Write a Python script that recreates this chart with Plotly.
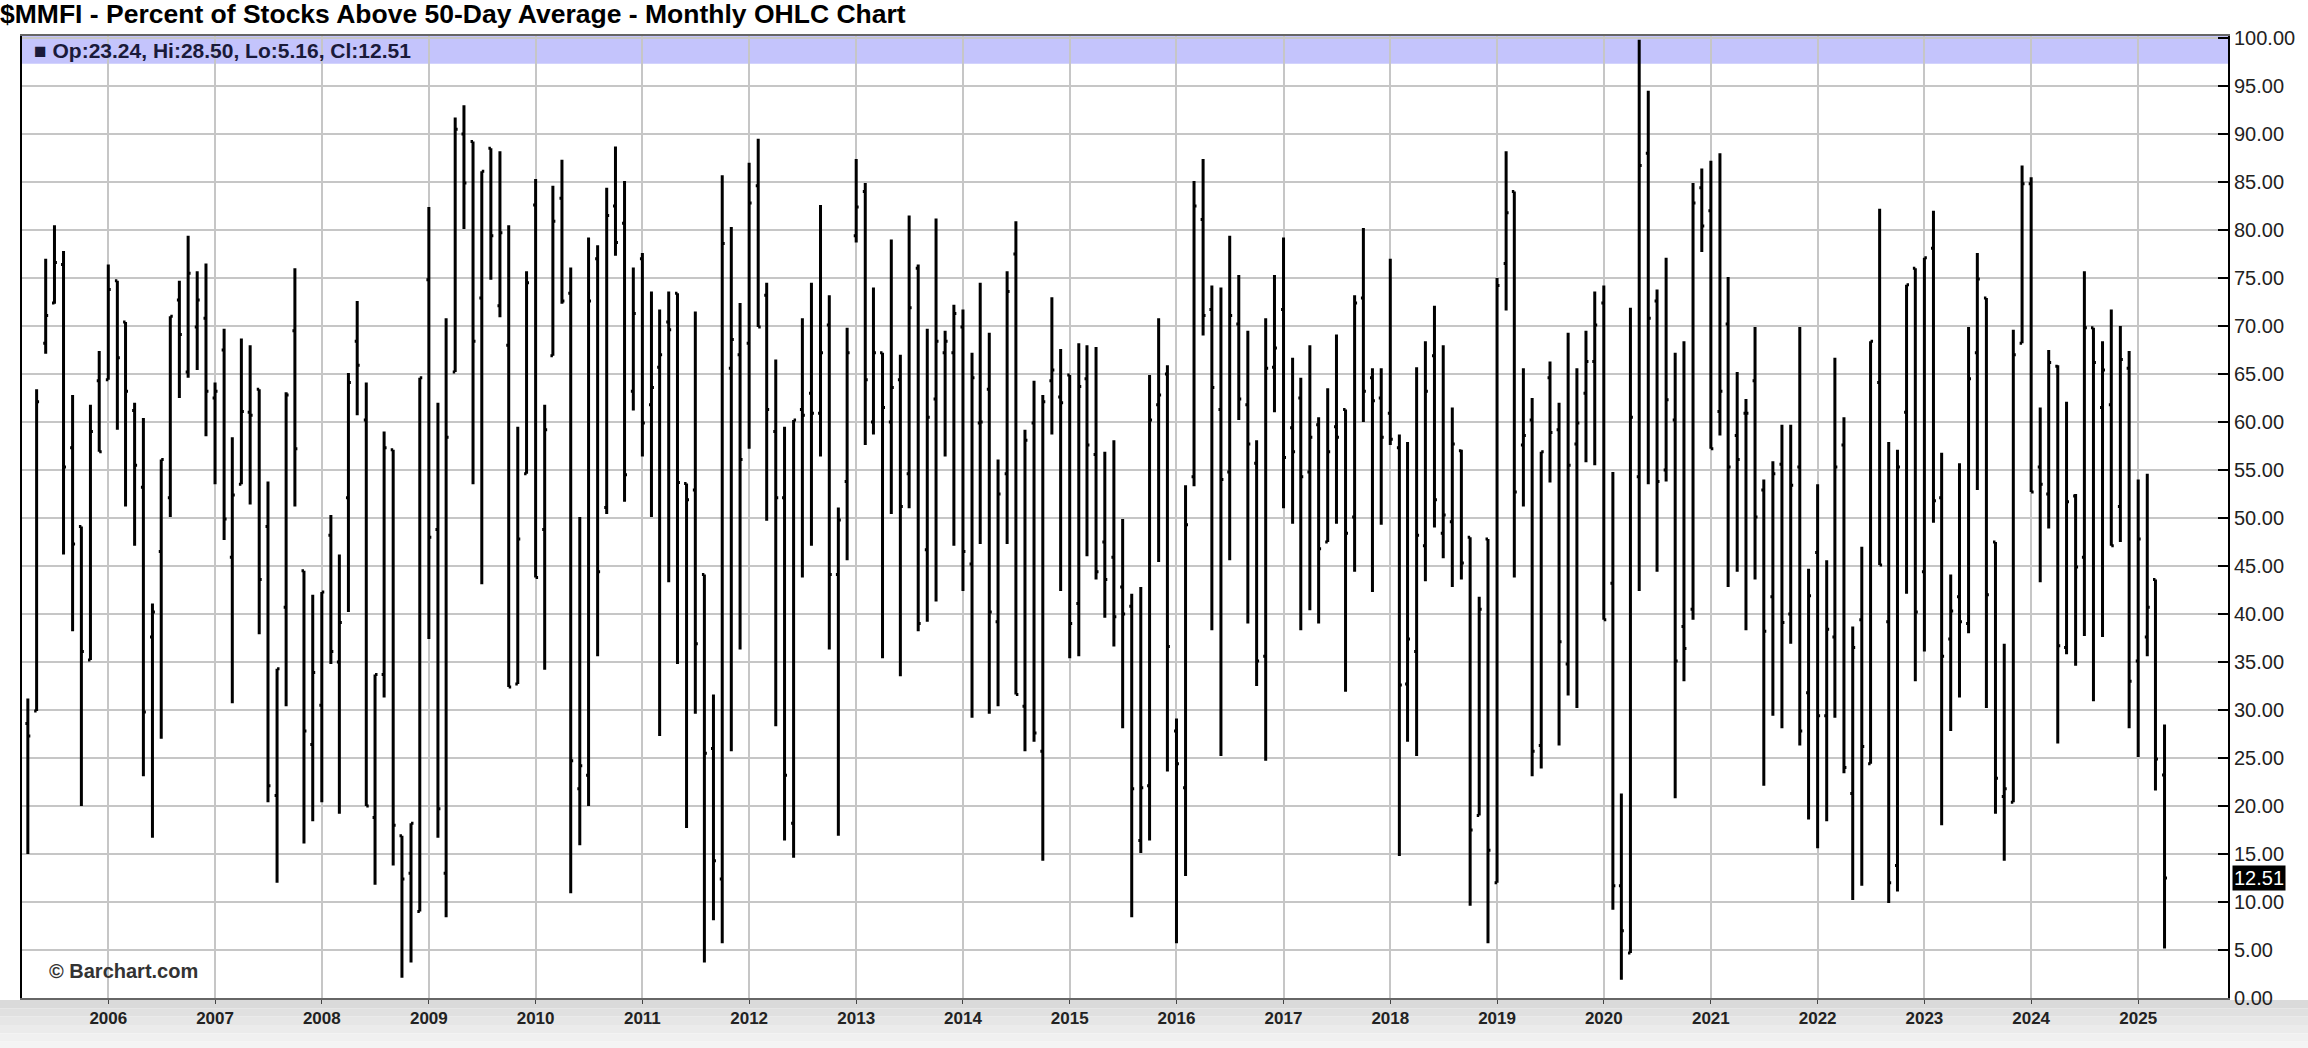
import pandas as pd
import plotly.graph_objects as go

# Monthly OHLC of $MMFI, Apr 2005 .. Apr 2025
first_month = "2005-04-01"
opens = [28.6, 29.9, 68.2, 72.4, 76.4, 57.3, 49.1, 35.2, 64.3,
         64.4, 74.7, 70.4, 61.2, 53.2, 37.6, 46.5, 52.1, 72.7, 65.2, 69.9, 70.8,
         62.5, 67.5, 45.9, 53.5, 61.0, 63.4, 49.1, 21.1, 40.7, 69.5, 44.5, 26.4,
         30.5, 48.2, 35.0, 52.1, 68.4, 60.2, 18.8, 33.7, 57.1, 16.9, 13.0, 9.0,
         74.8, 48.8, 13.0, 65.2, 90.0, 89.2, 72.9, 88.5, 72.1, 68.0, 32.7, 54.6,
         82.6, 48.8, 66.9, 83.3, 73.4, 21.8, 23.2, 77.0, 51.1, 82.5, 80.7, 63.2,
         77.0, 61.8, 65.7, 70.4, 73.4, 53.6, 52.9, 44.1, 26.0, 12.4, 65.6, 67.0,
         68.2, 84.6, 73.2, 59.0, 52.1, 18.2, 61.3, 63.0, 60.9, 70.1, 44.1, 53.8,
         79.4, 84.0, 60.0, 67.2, 60.0, 64.4, 54.6, 76.0, 46.7, 62.4, 67.2, 67.2,
         69.9, 45.2, 59.9, 63.4, 39.2, 54.6, 77.5, 30.4, 59.9, 25.7, 64.3, 62.6,
         64.9, 41.1, 64.5, 56.6, 47.5, 45.9, 42.8, 40.8, 16.4, 22.1, 61.8, 65.0,
         27.8, 21.9, 54.3, 81.1, 71.7, 61.3, 54.8, 70.2, 61.8, 55.7, 35.6, 65.7,
         71.7, 59.4, 62.5, 54.8, 59.7, 47.5, 59.5, 61.3, 50.1, 72.9, 64.6, 62.5,
         60.9, 57.3, 32.7, 36.1, 47.1, 66.9, 48.4, 49.6, 57.0, 48.0, 19.0, 47.8,
         12.0, 76.5, 84.0, 57.6, 60.2, 26.3, 64.6, 59.2, 34.8, 57.7, 63.0, 66.3,
         72.4, 43.2, 11.7, 4.7, 54.3, 88.0, 72.6, 55.0, 60.2, 38.7, 40.5, 84.4,
         82.0, 61.1, 70.2, 58.6, 60.9, 64.3, 52.9, 41.8, 55.6, 40.0, 55.3, 31.8,
         46.4, 29.4, 37.6, 57.6, 21.3, 39.4, 24.4, 64.1, 39.2, 13.8, 61.0, 76.0,
         44.4, 78.1, 52.1, 37.4, 41.8, 39.0, 67.2, 72.9, 47.5, 21.0, 20.4, 68.2,
         84.8, 55.3, 52.5, 65.8, 36.5, 52.3, 45.9, 69.8, 61.5, 61.8, 51.2, 65.6,
         35.1, 37.6, 43.6, 23.24]
highs = [31.2, 63.4, 77.0, 80.5, 77.8, 62.8, 49.1, 61.8, 67.4,
         76.4, 74.7, 70.4, 62.0, 60.4, 41.1, 56.1, 71.0, 74.7, 79.4, 75.7, 76.5,
         64.1, 69.7, 58.4, 68.7, 68.0, 63.4, 53.8, 34.3, 63.1, 76.0, 44.5, 42.0,
         42.3, 50.3, 46.2, 65.1, 72.6, 64.1, 33.7, 59.0, 57.1, 16.9, 18.2, 64.6,
         82.4, 62.0, 70.8, 91.7, 93.0, 89.2, 86.1, 88.5, 88.2, 80.5, 59.5, 75.7,
         85.3, 61.8, 84.6, 87.3, 76.1, 50.1, 79.2, 78.4, 84.4, 88.7, 85.1, 76.1,
         77.6, 73.6, 71.7, 73.6, 73.4, 53.6, 71.5, 44.1, 31.6, 85.7, 80.3, 72.4,
         87.0, 89.5, 74.5, 66.5, 59.5, 60.2, 70.8, 74.5, 82.6, 73.2, 51.1, 69.8,
         87.4, 84.9, 74.0, 67.2, 79.0, 67.0, 81.5, 76.4, 69.7, 81.2, 69.5, 72.2,
         71.7, 67.2, 74.5, 69.3, 56.1, 75.7, 80.9, 59.2, 64.3, 62.8, 73.0, 67.6,
         64.9, 68.2, 68.0, 67.8, 56.9, 58.1, 49.9, 42.1, 42.8, 64.9, 70.8, 65.9,
         29.1, 53.4, 85.1, 87.4, 74.2, 74.0, 79.4, 75.3, 69.5, 58.1, 70.8, 75.3,
         79.2, 66.7, 64.6, 68.0, 60.5, 63.5, 69.1, 61.3, 73.2, 80.2, 65.6, 65.6,
         77.0, 58.7, 57.9, 65.7, 68.4, 72.1, 68.0, 61.5, 57.1, 48.0, 41.8, 47.8,
         75.0, 88.2, 84.0, 65.6, 62.5, 56.9, 66.3, 62.0, 69.3, 65.6, 69.5, 73.6,
         74.2, 54.8, 21.3, 71.9, 99.8, 94.5, 73.8, 77.1, 67.2, 68.4, 84.9, 86.4,
         87.2, 88.0, 75.1, 65.2, 62.4, 69.9, 54.0, 55.9, 59.7, 59.7, 69.9, 44.7,
         53.5, 45.6, 66.7, 60.5, 38.7, 47.0, 68.4, 82.2, 57.9, 57.1, 74.3, 76.0,
         77.1, 82.0, 56.8, 44.1, 55.7, 69.9, 77.6, 72.9, 47.5, 36.9, 69.6, 86.7,
         85.5, 61.5, 67.5, 65.9, 62.1, 52.5, 75.7, 69.8, 68.4, 71.7, 70.0, 67.4,
         54.0, 54.6, 43.6, 28.50]
lows = [15.0, 29.9, 67.1, 72.3, 46.2, 38.2, 20.0, 35.2, 56.9,
        64.4, 59.2, 51.2, 47.1, 23.1, 16.7, 27.0, 50.1, 62.5, 64.6, 65.4, 58.5,
        53.5, 47.7, 30.7, 53.5, 51.4, 37.9, 20.4, 12.0, 30.4, 51.2, 16.1, 18.4,
        20.4, 34.8, 19.2, 40.2, 60.7, 20.0, 11.8, 31.3, 13.8, 2.1, 3.7, 9.0,
        37.4, 16.7, 8.4, 65.2, 80.1, 53.5, 43.1, 74.8, 70.9, 32.4, 32.7, 54.6,
        43.8, 34.2, 66.9, 72.3, 10.9, 15.9, 20.0, 35.6, 50.4, 77.3, 51.7, 61.2,
        56.4, 50.1, 27.3, 43.3, 34.8, 17.7, 29.6, 3.7, 8.1, 5.7, 25.7, 36.3,
        57.2, 69.9, 49.7, 28.3, 16.4, 14.6, 43.8, 47.1, 56.4, 36.3, 16.9, 45.6,
        78.7, 57.6, 58.7, 35.4, 50.4, 33.5, 51.0, 38.2, 39.2, 41.3, 56.4, 47.1,
        42.4, 29.2, 47.3, 29.6, 30.4, 47.3, 31.6, 25.7, 26.7, 14.3, 58.7, 42.4,
        35.4, 35.6, 46.0, 43.6, 39.6, 36.6, 28.1, 8.4, 15.1, 16.4, 45.4, 23.6,
        5.7, 12.7, 53.3, 69.0, 38.3, 25.2, 45.6, 60.2, 39.0, 32.5, 24.7, 61.0,
        51.0, 49.4, 38.3, 40.4, 39.0, 47.5, 49.4, 31.9, 44.4, 60.0, 42.3, 49.3,
        57.6, 14.8, 26.7, 25.2, 43.4, 49.0, 45.8, 42.8, 43.6, 9.6, 19.0, 5.7,
        12.0, 71.6, 43.8, 51.2, 23.1, 23.9, 53.7, 26.3, 31.5, 30.2, 55.8, 55.5,
        39.4, 9.2, 1.9, 4.7, 42.4, 53.5, 44.4, 53.8, 20.8, 33.0, 39.4, 77.7,
        57.2, 58.6, 42.8, 44.4, 38.3, 43.6, 22.1, 29.4, 28.1, 36.9, 26.3, 18.6,
        15.6, 18.4, 29.2, 23.4, 10.2, 11.7, 24.4, 45.1, 9.9, 11.1, 42.1, 33.0,
        36.1, 49.5, 18.0, 27.8, 31.3, 38.0, 52.9, 30.2, 19.2, 14.3, 20.4, 68.2,
        52.7, 43.3, 48.9, 26.5, 35.8, 34.6, 37.7, 30.9, 37.6, 47.1, 47.5, 28.1,
        25.1, 35.6, 21.6, 5.16]
closes = [27.3, 62.1, 71.1, 76.6, 55.3, 47.3, 36.1, 59.0, 56.9,
          73.8, 66.7, 63.2, 55.5, 29.8, 40.2, 56.1, 71.0, 69.1, 75.5, 72.7, 63.2,
          63.2, 49.9, 52.4, 61.1, 60.7, 43.6, 22.1, 34.3, 62.8, 57.2, 27.8, 33.9,
          42.3, 36.1, 39.1, 64.1, 65.9, 20.0, 33.7, 57.3, 18.0, 12.4, 18.2, 64.6,
          48.0, 19.7, 58.4, 90.5, 84.9, 68.4, 86.1, 79.4, 79.7, 32.4, 47.8, 74.5,
          43.8, 59.2, 80.9, 72.6, 24.7, 24.2, 72.6, 44.4, 81.5, 78.7, 54.5, 71.3,
          59.9, 63.6, 67.0, 69.6, 53.7, 51.9, 36.9, 25.5, 14.3, 78.6, 68.6, 56.1,
          82.8, 69.9, 61.3, 52.1, 23.2, 60.2, 60.7, 60.9, 67.2, 44.1, 49.8, 67.2,
          82.4, 64.4, 67.2, 61.5, 63.6, 51.2, 71.9, 39.0, 60.5, 68.4, 68.4, 71.3,
          46.5, 64.6, 60.0, 40.2, 52.5, 73.6, 31.6, 58.1, 27.6, 62.1, 65.4, 62.0,
          39.0, 63.7, 57.6, 44.4, 43.6, 39.7, 40.0, 21.8, 21.9, 60.2, 62.8, 36.6,
          24.4, 49.3, 82.5, 71.1, 63.6, 54.0, 71.1, 62.4, 57.7, 35.1, 65.6, 67.7,
          56.3, 56.9, 54.3, 58.4, 46.8, 56.9, 58.4, 48.4, 72.4, 63.2, 62.2, 58.4,
          58.2, 32.6, 37.4, 48.2, 63.2, 51.9, 50.3, 57.7, 45.3, 17.5, 40.5, 15.4,
          74.2, 81.8, 52.7, 58.6, 25.7, 56.9, 58.9, 37.1, 55.5, 59.9, 66.3, 70.1,
          39.4, 11.7, 7.0, 60.5, 86.7, 70.8, 53.8, 62.3, 35.1, 36.4, 82.8, 80.4,
          57.2, 63.2, 55.3, 56.1, 60.9, 50.1, 38.2, 54.6, 39.1, 53.4, 27.8, 41.9,
          29.4, 38.4, 55.3, 24.0, 36.5, 26.2, 68.4, 45.1, 12.0, 55.3, 74.3, 40.2,
          77.1, 51.8, 35.6, 40.3, 39.2, 64.5, 74.9, 42.0, 22.9, 21.8, 67.0, 84.8,
          52.7, 53.5, 66.2, 36.7, 51.7, 44.9, 69.8, 66.2, 65.4, 47.1, 66.5, 33.0,
          47.8, 40.7, 24.9, 12.51]
year_ticks = list(range(2006, 2026))

months = pd.date_range(first_month, periods=len(opens), freq="MS")

FONT = "Liberation Sans, Arial, sans-serif"
GRID = "#c6c6c6"

fig = go.Figure(go.Ohlc(
    x=months, open=opens, high=highs, low=lows, close=closes,
    increasing=dict(line=dict(color="black", width=3)),
    decreasing=dict(line=dict(color="black", width=3)),
    tickwidth=0.3, hoverinfo="skip", showlegend=False,
))

shapes = [
    # legend band at top of plot
    dict(type="rect", xref="paper", yref="y", x0=0, x1=1, y0=97.3, y1=100.2,
         fillcolor="#c4c4fc", line=dict(width=0), layer="below"),
]
# grey gradient strip under the plot
greys = ["#dadada", "#e0e0e0", "#e6e6e6", "#ebebeb", "#f0f0f0", "#f4f4f4"]
n = len(greys)
for i, g in enumerate(greys):
    y0 = -0.002 - i * 0.052 / n
    y1 = -0.002 - (i + 1) * 0.052 / n
    shapes.append(dict(type="rect", xref="paper", yref="paper",
                       x0=-0.02, x1=1.05, y0=y1, y1=y0,
                       fillcolor=g, line=dict(width=0), layer="below"))

fig.update_layout(
    width=2308, height=1048,
    margin=dict(l=22, r=80, t=36, b=50),
    paper_bgcolor="white", plot_bgcolor="white",
    font=dict(family=FONT, color="#222"),
    title=dict(text="<b>$MMFI - Percent of Stocks Above 50-Day Average - Monthly OHLC Chart</b>",
               x=0.0, xref="container", xanchor="left", y=1 - 14 / 1048, yanchor="middle",
               font=dict(family=FONT, size=26.5, color="black")),
    xaxis=dict(type="date", range=["2005-03-12", "2025-11-04"],
               tickvals=[f"{y}-01-01" for y in year_ticks],
               ticktext=[f"<b>{y}</b>" for y in year_ticks],
               showgrid=True, gridcolor=GRID, gridwidth=2,
               ticks="outside", ticklen=4, tickcolor="#444",
               showline=True, linecolor="#666", linewidth=2, mirror=True,
               tickfont=dict(family=FONT, size=17, color="#222"),
               rangeslider=dict(visible=False), zeroline=False),
    yaxis=dict(side="right", range=[0, 100.2], dtick=5, tick0=0, tickformat=".2f",
               showgrid=True, gridcolor=GRID, gridwidth=2,
               ticks="inside", ticklen=10, tickcolor="black", tickwidth=2,
               showline=True, linecolor="black", linewidth=2, mirror=True,
               tickfont=dict(family=FONT, size=20, color="#222"), zeroline=False),
    shapes=shapes,
    annotations=[
        dict(text="<b>■ Op:23.24, Hi:28.50, Lo:5.16, Cl:12.51</b>", xref="paper", yref="y",
             x=0.0045, y=98.7, xanchor="left", yanchor="middle", showarrow=False,
             font=dict(family=FONT, size=21, color="#1a1a3a")),
        dict(text="<b>© Barchart.com</b>", xref="paper", yref="y", x=0.0113, y=2.8,
             xanchor="left", yanchor="middle", showarrow=False,
             font=dict(family=FONT, size=20, color="#333")),
        dict(text="12.51", xref="paper", yref="y", x=1, y=closes[-1], xanchor="left",
             yanchor="middle", xshift=4, showarrow=False, bgcolor="black",
             borderpad=1, font=dict(family=FONT, size=20, color="white")),
    ],
)

fig.write_html("out.html", config={"displayModeBar": False},
               post_script="document.body.style.margin='0';")
